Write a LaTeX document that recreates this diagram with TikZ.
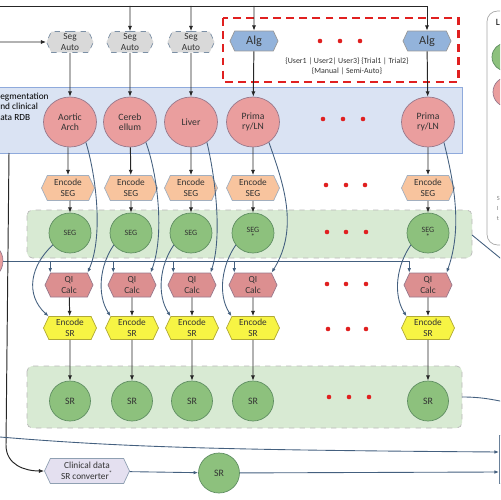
\documentclass[tikz,border=0pt]{standalone}
\usepackage{fontspec}
\setmainfont{Carlito}
\usetikzlibrary{shapes.geometric,shapes.symbols,arrows.meta}
\definecolor{bandblue}{HTML}{DAE3F3}
\definecolor{bandblueline}{HTML}{8FAADC}
\definecolor{bandgreen}{HTML}{D8EAD3}
\definecolor{organ}{HTML}{EA9E9E}
\definecolor{organline}{HTML}{98798C}
\definecolor{segfill}{HTML}{8DC17D}
\definecolor{segline}{HTML}{5F8E62}
\definecolor{encseg}{HTML}{F8C49E}
\definecolor{qifill}{HTML}{DC8F90}
\definecolor{encsr}{HTML}{F7F444}
\definecolor{algfill}{HTML}{93B3DB}
\definecolor{autofill}{HTML}{D9D9D9}
\definecolor{convfill}{HTML}{E4E0F0}
\definecolor{wire}{HTML}{44607F}
\definecolor{dotred}{HTML}{E02020}
\begin{document}
\begin{tikzpicture}[x=0.02cm,y=-0.02cm,
  hexa/.style={signal,signal to=east and west,signal pointer angle=130,inner sep=0pt,
    align=center,font=\fontsize{5.3}{6}\selectfont,text=black!80},
  autohex/.style={hexa,draw=wire!70,dashed,fill=autofill,minimum width=0.94cm,minimum height=0.42cm},
  alghex/.style={hexa,draw=gray!80,fill=algfill,minimum width=0.96cm,minimum height=0.4cm,font=\fontsize{7}{8}\selectfont},
  encseghex/.style={hexa,draw=wire!50,fill=encseg,minimum width=1.06cm,minimum height=0.5cm},
  qihex/.style={hexa,draw=organline,fill=qifill,minimum width=0.96cm,minimum height=0.48cm},
  encsrhex/.style={hexa,draw=olive!70,fill=encsr,minimum width=1.06cm,minimum height=0.46cm},
  convhex/.style={hexa,draw=wire!60,fill=convfill,minimum width=1.7cm,minimum height=0.5cm},
  organnode/.style={ellipse,draw=organline,fill=organ,inner sep=0pt,minimum width=1.06cm,minimum height=1cm,
    align=center,font=\fontsize{5.5}{6}\selectfont,text=black!80},
  segnode/.style={ellipse,draw=segline,fill=segfill,inner sep=0pt,minimum width=0.84cm,minimum height=0.8cm,
    align=center,font=\fontsize{4.6}{4.6}\selectfont,text=black!80},
  srnode/.style={segnode,minimum width=0.82cm,font=\fontsize{5.6}{6}\selectfont},
  arr/.style={-{Latex[length=3pt,width=2.4pt]},black!85,line width=0.55pt},
  warr/.style={-{Latex[length=2.6pt,width=2pt]},wire,line width=0.5pt}]
\useasboundingbox (0,0) rectangle (500,500);
\clip (0,0) rectangle (500,500);

% backgrounds
\draw[draw=bandblueline,fill=bandblue] (-10,87) rectangle (462,153);
\draw[rounded corners=3pt,dashed,draw=gray!55,fill=bandgreen] (27,210) rectangle (472,258);
\draw[rounded corners=3pt,dashed,draw=gray!55,fill=bandgreen] (27,366) rectangle (462,428);
\draw[dotred,line width=1.7pt,dash pattern=on 4.5pt off 3pt] (223,18) rectangle (458,82);
\draw[rounded corners=6pt,draw=gray!70,fill=white] (487,11) rectangle (570,245);
\draw[draw=wire!80,fill=white] (499,435) rectangle (570,483);

\node[anchor=west,align=left,inner sep=0pt,font=\fontsize{5.3}{6}\selectfont] (rdb) at (0,106.5) {egmentation\\nd clinical\\ata RDB};
\node[font=\fontsize{4.5}{5.7}\selectfont,align=center,text=black!80] (opts) at (347,66.5)
  {\{User1 | User2| User3\} \{Trial1 | Trial2\}\\\{Manual | Semi-Auto\}};

% legend
\node[anchor=west,inner sep=0pt,font=\fontsize{5.5}{6}\selectfont] (lgt) at (495.5,22) {L};
\node[segnode,minimum width=0.56cm,minimum height=0.56cm] (lg1) at (506,57) {};
\node[organnode,minimum width=0.6cm,minimum height=0.6cm] (lg2) at (508,92) {};
\node[anchor=west,inner sep=0pt,align=left,text=gray,font=\fontsize{3.6}{5.7}\selectfont] (lgn) at (496.5,208) {S\\I\\t};

% sources
\node[autohex] (sa1) at (70,42) {Seg\\Auto};
\node[autohex] (sa2) at (130,42) {Seg\\Auto};
\node[autohex] (sa3) at (191,42) {Seg\\Auto};
\node[alghex] (al4) at (254,41) {Alg};
\node[alghex] (al5) at (427,41) {Alg};

% organs
\node[organnode] (o1) at (70,122) {Aortic\\Arch};
\node[organnode] (o2) at (130,122) {Cereb\\ellum};
\node[organnode] (o3) at (191,122) {Liver};
\node[organnode] (o4) at (253,122) {Prima\\ry/LN};
\node[organnode] (o5) at (428,122) {Prima\\ry/LN};

% encode seg
\node[encseghex] (es1) at (68,188) {Encode\\SEG};
\node[encseghex] (es2) at (131,188) {Encode\\SEG};
\node[encseghex] (es3) at (191,188) {Encode\\SEG};
\node[encseghex] (es4) at (253,188) {Encode\\SEG};
\node[encseghex] (es5) at (428,188) {Encode\\SEG};

% seg objects
\node[segnode] (sg1) at (70,233) {SEG};
\node[segnode] (sg2) at (131,233) {SEG};
\node[segnode] (sg3) at (191,233) {SEG};
\node[segnode] (sg4) at (253,233) {SEG\\[-0.5pt]*};
\node[segnode] (sg5) at (428,233) {SEG\\[-0.5pt]*};

% qi calc
\node[qihex] (qi1) at (69,285) {QI\\Calc};
\node[qihex] (qi2) at (132,285) {QI\\Calc};
\node[qihex] (qi3) at (192,285) {QI\\Calc};
\node[qihex] (qi4) at (253,285) {QI\\Calc};
\node[qihex] (qi5) at (428,285) {QI\\Calc};

% encode sr
\node[encsrhex] (er1) at (70,328) {Encode\\SR};
\node[encsrhex] (er2) at (132,328) {Encode\\SR};
\node[encsrhex] (er3) at (192,328) {Encode\\SR};
\node[encsrhex] (er4) at (253,328) {Encode\\SR};
\node[encsrhex] (er5) at (428,328) {Encode\\SR};

% sr objects
\node[srnode] (sr1) at (70,401) {SR};
\node[srnode] (sr2) at (132,401) {SR};
\node[srnode] (sr3) at (192,401) {SR};
\node[srnode] (sr4) at (253,401) {SR};
\node[srnode] (sr5) at (428,401) {SR};

% clinical data
\node[organnode,minimum width=0.76cm,minimum height=0.76cm] (lp) at (-16,261) {};
\node[convhex] (cv) at (87,471) {Clinical data\\SR converter\textsuperscript{*}};
\node[srnode] (src) at (219,473) {SR};

% dots
\fill[dotred] (320,41) circle (2.3) (340,41) circle (2.3) (360,41) circle (2.3);
\fill[dotred] (323,119) circle (2.3) (343,119) circle (2.3) (363,119) circle (2.3);
\fill[dotred] (326,185) circle (2.3) (346,185) circle (2.3) (365,185) circle (2.3);
\fill[dotred] (327,232) circle (2.3) (346,232) circle (2.3) (366,232) circle (2.3);
\fill[dotred] (327,284) circle (2.3) (346,284) circle (2.3) (366,284) circle (2.3);
\fill[dotred] (328,329) circle (2.3) (348,329) circle (2.3) (366,329) circle (2.3);
\fill[dotred] (329,397) circle (2.3) (349,397) circle (2.3) (369,397) circle (2.3);

% inputs
\coordinate (top) at (0,6);
\coordinate (inl) at (0,42);
\draw[arr] (top) -| (al5);
\draw[arr] (sa2 |- top) -- (sa2);
\draw[arr] (sa3 |- top) -- (sa3);
\draw[arr] (al4 |- top) -- (al4);
\draw[arr] (inl) -- (sa1);

\draw[arr] (sa1) -- (o1);
\draw[arr] (sa2) -- (o2);
\draw[arr] (sa3) -- (o3);
\draw[arr] (al4) -- (o4);
\draw[arr] (al5) -- (o5);

\draw[arr] (o1) -- (es1 |- o1.south) -- (es1);
\draw[arr] (o2) -- (es2);
\draw[arr] (o3) -- (es3);
\draw[arr] (o4) -- (es4);
\draw[arr] (o5) -- (es5);

\draw[arr] (es1) -- (sg1 |- es1.south) -- (sg1);
\draw[arr] (es2) -- (sg2);
\draw[arr] (es3) -- (sg3);
\draw[arr] (es4) -- (sg4);
\draw[arr] (es5) -- (sg5);

\draw[arr] (qi1) -- (er1);
\draw[arr] (qi2) -- (er2);
\draw[arr] (qi3) -- (er3);
\draw[arr] (qi4) -- (er4);
\draw[arr] (qi5) -- (er5);

\draw[arr] (er1) -- (sr1);
\draw[arr] (er2) -- (sr2);
\draw[arr] (er3) -- (sr3);
\draw[arr] (er4) -- (sr4);
\draw[arr] (er5) -- (sr5);

% organ -> qi calc
\draw[warr] (o1.-52) .. controls +(10,33) and +(16,-37) .. (qi1.north east);
\draw[warr] (o2.-52) .. controls +(12,33) and +(14,-37) .. (qi2.north east);
\draw[warr] (o3.-52) .. controls +(8,33) and +(12,-37) .. (qi3.north east);
\draw[warr] (o4.-52) .. controls +(14,40) and +(28,-45) .. (qi4.north east);
\draw[warr] (o5.-52) .. controls +(10,40) and +(16,-45) .. (qi5.north east);

% seg -> encode sr
\draw[warr] (sg1.215) .. controls +(-22,20) and +(-24,-22) .. (er1.north west);
\draw[warr] (sg2.215) .. controls +(-14,20) and +(-14,-22) .. (er2.north west);
\draw[warr] (sg3.215) .. controls +(-14,20) and +(-14,-22) .. (er3.north west);
\draw[warr] (sg4.215) .. controls +(-14,20) and +(-14,-22) .. (er4.north west);
\draw[warr] (sg5.215) .. controls +(-14,20) and +(-14,-22) .. (er5.north west);

% clinical line
\draw[warr] (lp) -| (qi5.north west);
\draw[warr] (qi1.north west |- lp) -- (qi1.north west);
\draw[warr] (qi2.north west |- lp) -- (qi2.north west);
\draw[warr] (qi3.north west |- lp) -- (qi3.north west);
\draw[warr] (qi4.north west |- lp) -- (qi4.north west);

% left and bottom
\coordinate (rdbout) at (9,153);
\coordinate (inb) at (0,437);
\coordinate (rbin1) at (499,452);
\coordinate (rbin2) at (499,472);
\coordinate (b1e) at (472,235);
\coordinate (b1x) at (505,262);
\coordinate (b2e) at (462,397);
\coordinate (b2x) at (505,402);
\draw[arr] (rdbout) -- (6,445) .. controls (6,465) and (25,471) .. (cv.west);
\draw[warr] (inb) .. controls (120,447) and (220,450) .. (rbin1);
\draw[warr] (cv) -- (src);
\draw[warr] (src) -- (rbin2);
\draw[wire,line width=0.5pt] (b1e) -- (b1x);
\draw[wire,line width=0.5pt] (b2e) .. controls (480,397) and (490,399) .. (b2x);
\end{tikzpicture}
\end{document}
